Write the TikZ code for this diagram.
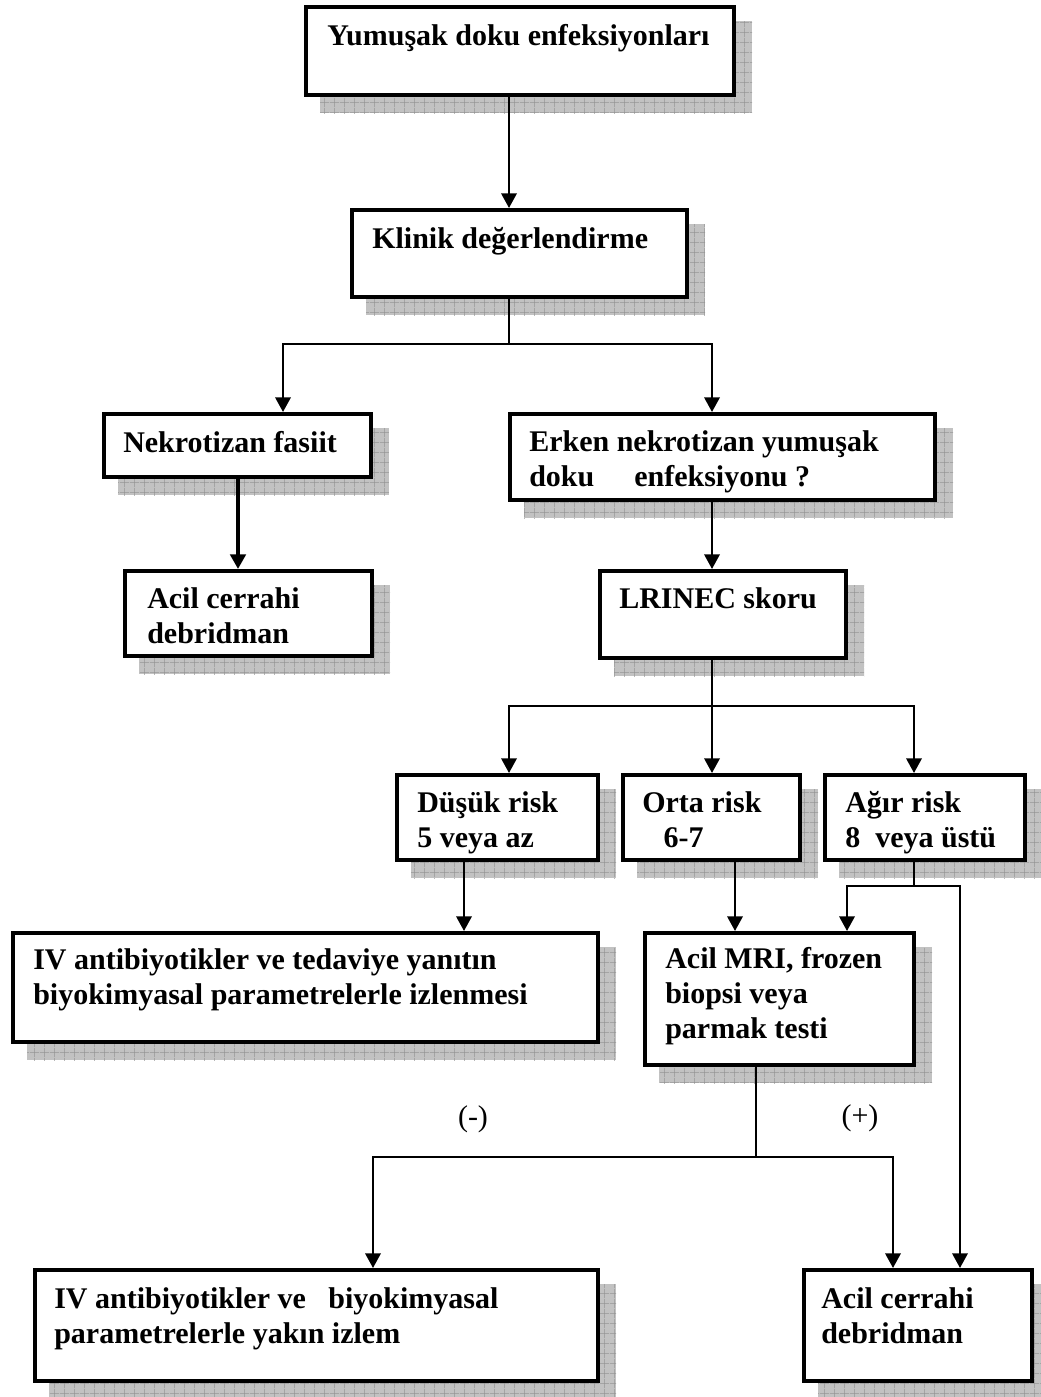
\documentclass[tikz,border=0pt]{standalone}
\usepackage{fontspec}
\setmainfont{Liberation Serif}
\usetikzlibrary{arrows.meta,patterns.meta,backgrounds,fit}
\tikzdeclarepattern{
  name=shgrid,
  type=uncolored,
  bounding box={(0pt,0pt) and (7.5pt,7.5pt)},
  tile size={(7.5pt,7.5pt)},
  code={
    \pgfsetlinewidth{0.45pt}
    \pgfpathmoveto{\pgfpoint{0pt}{3.75pt}}\pgfpathlineto{\pgfpoint{7.5pt}{3.75pt}}
    \pgfpathmoveto{\pgfpoint{3.75pt}{0pt}}\pgfpathlineto{\pgfpoint{3.75pt}{7.5pt}}
    \pgfusepath{stroke}
  }
}
\begin{document}
\begin{tikzpicture}[x=0.75pt,y=-0.75pt,
  box/.style={draw, line width=3pt, fill=white, inner sep=0pt, rectangle},
  shadowst/.style={fill=black!24, postaction={pattern=shgrid, pattern color=black!42}},
  lbl/.style={anchor=base west, align=left, inner sep=0pt, font=\bfseries\fontsize{22.5pt}{25.9pt}\selectfont},
  sign/.style={inner sep=0pt, font=\fontsize{22.5pt}{25.9pt}\selectfont},
  wire/.style={line width=1.8pt},
  conn/.style={line width=1.8pt, -{Triangle[length=11pt,width=11.5pt]}}
]
\useasboundingbox (0,0) rectangle (1040,1397);
\clip (0,0) rectangle (1040,1397);

% boxes
\node[box, fit={(306,7) (734,95)}] (b1) {};
\node[box, fit={(352,210) (687,297)}] (b2) {};
\node[box, fit={(104,414) (371,477)}] (b3) {};
\node[box, fit={(510,414) (935,500)}] (b4) {};
\node[box, fit={(125,571) (372,656)}] (b5) {};
\node[box, fit={(600,571) (846,658)}] (b6) {};
\node[box, fit={(397,775) (598,860)}] (b7) {};
\node[box, fit={(623,775) (800,860)}] (b8) {};
\node[box, fit={(825,775) (1025,860)}] (b9) {};
\node[box, fit={(13,933) (598,1042)}] (b10) {};
\node[box, fit={(645,933) (914,1065)}] (b11) {};
\node[box, fit={(35,1270) (598,1381)}] (b12) {};
\node[box, fit={(804,1270) (1032,1381)}] (b13) {};

% shadows
\begin{scope}[on background layer]
\foreach \n in {b1,b2,b3,b4,b5,b6,b7,b8,b9,b10,b11,b12,b13}
  \fill[shadowst] ([shift={(16,16)}]\n.north west) rectangle ([shift={(16,16)}]\n.south east);
\end{scope}

% texts (anchor = baseline of the last line)
\node[lbl] (t1) at (327,45) {Yumuşak doku enfeksiyonları};
\node[lbl] (t2) at (372,248) {Klinik değerlendirme};
\node[lbl] (t3) at (123,452) {Nekrotizan fasiit};
\node[lbl] (t4) at (529,486) {Erken nekrotizan yumuşak\\doku\hspace{30pt}enfeksiyonu ?};
\node[lbl] (t5) at (147,643) {Acil cerrahi\\debridman};
\node[lbl] (t6) at (619,608) {LRINEC skoru};
\node[lbl] (t7) at (417,847) {Düşük risk\\5 veya az};
\node[lbl] (t8) at (642,847) {Orta risk\\\hspace*{16pt}6-7};
\node[lbl] (t9) at (845,847) {Ağır risk\\8\ \ veya üstü};
\node[lbl] (t10) at (33,1004) {IV antibiyotikler ve tedaviye yanıtın\\biyokimyasal parametrelerle izlenmesi};
\node[lbl] (t11) at (665,1038) {Acil MRI, frozen\\biopsi veya\\parmak testi};
\node[lbl] (t12) at (54,1343) {IV antibiyotikler ve\ \ \ biyokimyasal\\parametrelerle yakın izlem};
\node[lbl] (t13) at (821,1343) {Acil cerrahi\\debridman};
\node[sign] (lminus) at (473,1119) {(-)};
\node[sign] (lplus) at (860,1118) {(+)};

% routing points
\coordinate (j1) at (509,344);
\coordinate (j1L) at (283,344);
\coordinate (j1R) at (712,344);
\coordinate (x3) at (238,0);
\coordinate (j2) at (712,706);
\coordinate (j2L) at (509,706);
\coordinate (j2R) at (914,706);
\coordinate (x7) at (464,0);
\coordinate (x8) at (735,0);
\coordinate (j3) at (914,886);
\coordinate (j3L) at (847,886);
\coordinate (j3R) at (960,886);
\coordinate (j4) at (756,1157);
\coordinate (j4L) at (373,1157);
\coordinate (j4R) at (893,1157);

% connectors
\draw[conn] (b1.south -| j1) -- (b2.north -| j1);
\draw[wire] (b2.south -| j1) -- (j1);
\draw[conn] (j1) -- (j1L) -- (b3.north -| j1L);
\draw[conn] (j1) -- (j1R) -- (b4.north -| j1R);
\draw[conn, line width=3pt] (b3.south -| x3) -- (b5.north -| x3);
\draw[conn] (b4.south -| j1R) -- (b6.north -| j1R);
\draw[wire] (b6.south -| j2) -- (j2);
\draw[conn] (j2) -- (j2L) -- (b7.north -| j2L);
\draw[conn] (j2) -- (b8.north -| j2);
\draw[conn] (j2) -- (j2R) -- (b9.north -| j2R);
\draw[conn] (b7.south -| x7) -- (b10.north -| x7);
\draw[conn] (b8.south -| x8) -- (b11.north -| x8);
\draw[wire] (b9.south -| j3) -- (j3);
\draw[conn] (j3) -- (j3L) -- (b11.north -| j3L);
\draw[conn] (j3) -- (j3R) -- (b13.north -| j3R);
\draw[wire] (b11.south -| j4) -- (j4);
\draw[conn] (j4) -- (j4L) -- (b12.north -| j4L);
\draw[conn] (j4) -- (j4R) -- (b13.north -| j4R);
\end{tikzpicture}
\end{document}
